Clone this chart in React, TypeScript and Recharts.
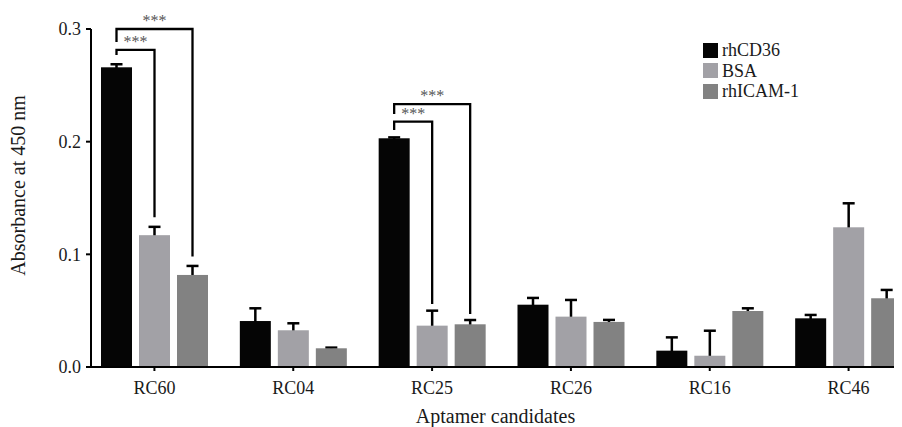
import React from 'react';
import { BarChart, Bar, XAxis, YAxis, Legend, Label } from 'recharts';

// ---- data ----
const categories = ['RC60', 'RC04', 'RC25', 'RC26', 'RC16', 'RC46'];
const rhCD36 = [0.266, 0.0408, 0.203, 0.0553, 0.0145, 0.0432];
const rhCD36Err = [0.0027, 0.0113, 0.0008, 0.006, 0.0118, 0.003];
const bsa = [0.117, 0.0326, 0.0367, 0.0447, 0.01, 0.124];
const bsaErr = [0.0074, 0.0062, 0.0133, 0.0148, 0.0222, 0.0213];
const icam = [0.0817, 0.0166, 0.0379, 0.04, 0.0497, 0.061];
const icamErr = [0.008, 0.0006, 0.0038, 0.0018, 0.0024, 0.0074];
const yTicks = [0, 0.1, 0.2, 0.3];
const seriesNames = ['rhCD36', 'BSA', 'rhICAM-1'];

// significance brackets: group index, from/to series index, values
const bracketGroup = [0, 0, 2, 2];
const bracketFrom = [0, 0, 0, 0];
const bracketTo = [1, 2, 1, 2];
const bracketTop = [0.2814, 0.3, 0.2177, 0.2334];
const bracketFromEnd = [0.2769, 0.2885, 0.2103, 0.2245];
const bracketToEnd = [0.133, 0.098, 0.056, 0.047];
const bracketText = ['***', '***', '***', '***'];

const data = categories.map((c, i) => ({
  name: c,
  rhCD36: rhCD36[i],
  rhCD36Err: rhCD36Err[i],
  BSA: bsa[i],
  BSAErr: bsaErr[i],
  icam: icam[i],
  icamErr: icamErr[i],
}));

// ---- layout ----
const FONT = '"Liberation Serif", "Times New Roman", serif';
const COLORS = ['#050505', '#a2a1a6', '#828282'];
const CHART_W = 910;
const CHART_H = 419;
const Y_AXIS_W = 83;
const X_PAD_LEFT = -6;
const CAT_GAP = 16;
const BAR_GAP = 7;
const TEXT = '#1a1a1a';

const Brackets = ({ index, x, y, width, value, pxPer }: any) => {
  const items = bracketGroup.map((g, i) => i).filter((i) => bracketGroup[i] === index);
  if (!items.length) return null;
  const toY = (v: number) => y + (value - v) * pxPer;
  const cxOf = (s: number) => x + width / 2 + s * (width + BAR_GAP);
  return (
    <g>
      {items.map((i) => {
        const x1 = cxOf(bracketFrom[i]);
        const x2 = cxOf(bracketTo[i]);
        const yt = toY(bracketTop[i]);
        return (
          <g key={i}>
            <polyline
              points={`${x1},${toY(bracketFromEnd[i])} ${x1},${yt} ${x2},${yt} ${x2},${toY(bracketToEnd[i])}`}
              fill="none"
              stroke="#000"
              strokeWidth={2.3}
            />
            <text x={(x1 + x2) / 2} y={yt - 3} textAnchor="middle" fontSize={16} fontFamily={FONT} fill="#555">
              {bracketText[i]}
            </text>
          </g>
        );
      })}
    </g>
  );
};

const makeShape = (errKey: string, withBrackets: boolean) => (props: any) => {
  const { x, y, width, height, fill, payload, value, index } = props;
  const v = Array.isArray(value) ? value[1] - value[0] : value;
  const e = payload[errKey];
  const pxPer = v ? height / v : 0;
  const yTop = y - e * pxPer;
  const cx = x + width / 2;
  return (
    <g>
      <line x1={cx} x2={cx} y1={y + 2} y2={yTop} stroke="#000" strokeWidth={2.5} />
      <line x1={cx - 6} x2={cx + 6} y1={yTop} y2={yTop} stroke="#000" strokeWidth={2.5} />
      <rect x={x} y={y} width={width} height={height} fill={fill} />
      {withBrackets ? <Brackets index={index} x={x} y={y} width={width} value={v} pxPer={pxPer} /> : null}
    </g>
  );
};

const renderLegend = (props: any) => {
  const payload = [...(props.payload || [])].sort(
    (a: any, b: any) => seriesNames.indexOf(a.value) - seriesNames.indexOf(b.value)
  );
  return (
    <div style={{ fontFamily: FONT, fontSize: 18, color: TEXT }}>
      {payload.map((p: any) => (
        <div key={p.value} style={{ display: 'flex', alignItems: 'center', height: 20.5 }}>
          <span style={{ display: 'inline-block', width: 15, height: 15, background: p.color, marginRight: 4 }} />
          <span style={{ lineHeight: '20px' }}>{p.value}</span>
        </div>
      ))}
    </div>
  );
};

export default function App() {
  return (
    <div style={{ fontFamily: FONT }}>
      <BarChart
        width={CHART_W}
        height={CHART_H}
        data={data}
        margin={{ top: 21, right: 0, bottom: 0, left: 0 }}
        barCategoryGap={CAT_GAP}
        barGap={BAR_GAP}
      >
        <XAxis
          dataKey="name"
          padding={{ left: X_PAD_LEFT, right: 0 }}
          height={60}
          axisLine={{ stroke: '#000', strokeWidth: 2 }}
          tickLine={{ stroke: '#000', strokeWidth: 2 }}
          tickSize={4}
          tickMargin={10}
          tick={{ fill: TEXT, fontSize: 18, fontFamily: FONT }}
        >
          <Label
            content={() => (
              <text x={487.5} y={415} textAnchor="middle" fontSize={20} fontFamily={FONT} fill={TEXT}>
                Aptamer candidates
              </text>
            )}
          />
        </XAxis>
        <YAxis
          width={Y_AXIS_W}
          domain={[0, 0.3]}
          ticks={yTicks}
          tickFormatter={(v: number) => v.toFixed(1)}
          axisLine={{ stroke: '#000', strokeWidth: 2 }}
          tickLine={{ stroke: '#000', strokeWidth: 2 }}
          tickSize={5}
          tickMargin={5}
          tick={{ fill: TEXT, fontSize: 18, fontFamily: FONT }}
        >
          <Label
            content={() => (
              <text
                x={17}
                y={177.5}
                transform="rotate(-90 17 177.5)"
                textAnchor="middle"
                fontSize={20}
                fontFamily={FONT}
                fill={TEXT}
              >
                Absorbance at 450 nm
              </text>
            )}
          />
        </YAxis>
        <Legend
          layout="vertical"
          align="center"
          verticalAlign="middle"
          wrapperStyle={{ top: 32, left: 695, width: 'auto' }}
          content={renderLegend}
        />
        <Bar dataKey="rhCD36" name={seriesNames[0]} fill={COLORS[0]} isAnimationActive={false} shape={makeShape('rhCD36Err', true)} />
        <Bar dataKey="BSA" name={seriesNames[1]} fill={COLORS[1]} isAnimationActive={false} shape={makeShape('BSAErr', false)} />
        <Bar dataKey="icam" name={seriesNames[2]} fill={COLORS[2]} isAnimationActive={false} shape={makeShape('icamErr', false)} />
      </BarChart>
    </div>
  );
}
